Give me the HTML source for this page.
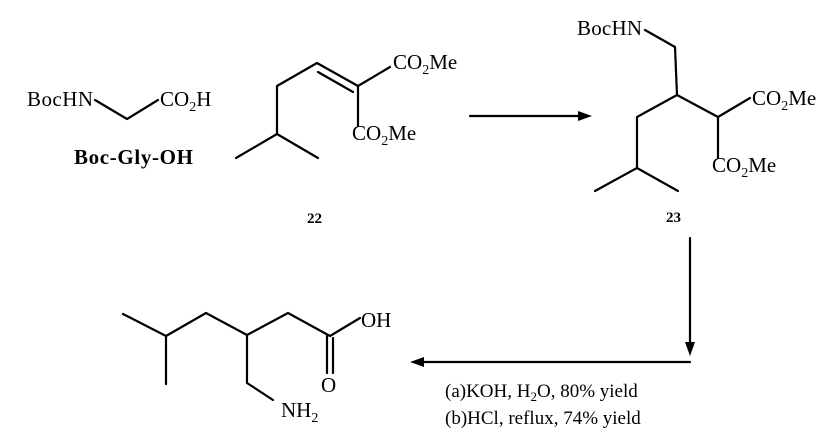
<!DOCTYPE html>
<html><head><style>
html,body{margin:0;padding:0;background:#fff;}
svg{display:block;}
text{font-family:"Liberation Serif",serif;fill:#000;}
</style></head><body>
<svg width="831" height="438" viewBox="0 0 831 438" xmlns="http://www.w3.org/2000/svg">
<g stroke="#000" stroke-width="2.2" fill="none" stroke-linecap="round" stroke-linejoin="round">
<!-- Boc-Gly-OH -->
<polyline points="95,100 127,119 158,100"/>
<!-- 22 -->
<polyline points="236,158 277,134 318,158"/>
<polyline points="277,134 277,86 317,63 358,86 390,67"/>
<line x1="318" y1="72" x2="353" y2="92"/>
<line x1="358" y1="86" x2="358" y2="126"/>
<!-- arrow 1 -->
<line x1="470" y1="116" x2="580" y2="116"/>
<!-- 23 -->
<polyline points="645,30 675,47 677,95 637,117 637,168"/>
<polyline points="595,191 637,168 678,191"/>
<polyline points="677,95 718,117 750,98"/>
<line x1="718" y1="117" x2="718" y2="158"/>
<!-- arrows 2/3 -->
<line x1="690" y1="238" x2="690" y2="345"/>
<line x1="690" y1="362" x2="422" y2="362"/>
<!-- product -->
<polyline points="123,314 166,336 206,313 247,335 288,313 330,336 360,318"/>
<line x1="166" y1="336" x2="166" y2="384"/>
<polyline points="247,335 247,383 273,400"/>
<line x1="327" y1="336" x2="327" y2="373"/>
<line x1="333" y1="338" x2="333" y2="373"/>
</g>
<g fill="#000">
<polygon points="592,116 578,111 578,121"/>
<polygon points="690,356 685,342 695,342"/>
<polygon points="410,362 424,357 424,367"/>
</g>
<g font-size="21">
<text x="27" y="106" textLength="66">BocHN</text>
<text x="160" y="106">CO<tspan font-size="14" dy="5">2</tspan><tspan dy="-5">H</tspan></text>
<text x="74" y="164" font-weight="bold" textLength="119">Boc-Gly-OH</text>
<text x="393" y="69">CO<tspan font-size="14" dy="5">2</tspan><tspan dy="-5">Me</tspan></text>
<text x="352" y="140">CO<tspan font-size="14" dy="5">2</tspan><tspan dy="-5">Me</tspan></text>
<text x="307" y="223" font-size="15" font-weight="bold">22</text>
<text x="577" y="35" textLength="65">BocHN</text>
<text x="752" y="105">CO<tspan font-size="14" dy="5">2</tspan><tspan dy="-5">Me</tspan></text>
<text x="712" y="172">CO<tspan font-size="14" dy="5">2</tspan><tspan dy="-5">Me</tspan></text>
<text x="666" y="222" font-size="15" font-weight="bold">23</text>
<text x="361" y="327">OH</text>
<text x="321" y="392">O</text>
<text x="281" y="417">NH<tspan font-size="14" dy="5">2</tspan></text>
<text x="445" y="397" font-size="19">(a)KOH, H<tspan font-size="13" dy="4">2</tspan><tspan dy="-4">O, 80% yield</tspan></text>
<text x="445" y="424" font-size="19">(b)HCl, reflux, 74% yield</text>
</g>
</svg>
</body></html>
